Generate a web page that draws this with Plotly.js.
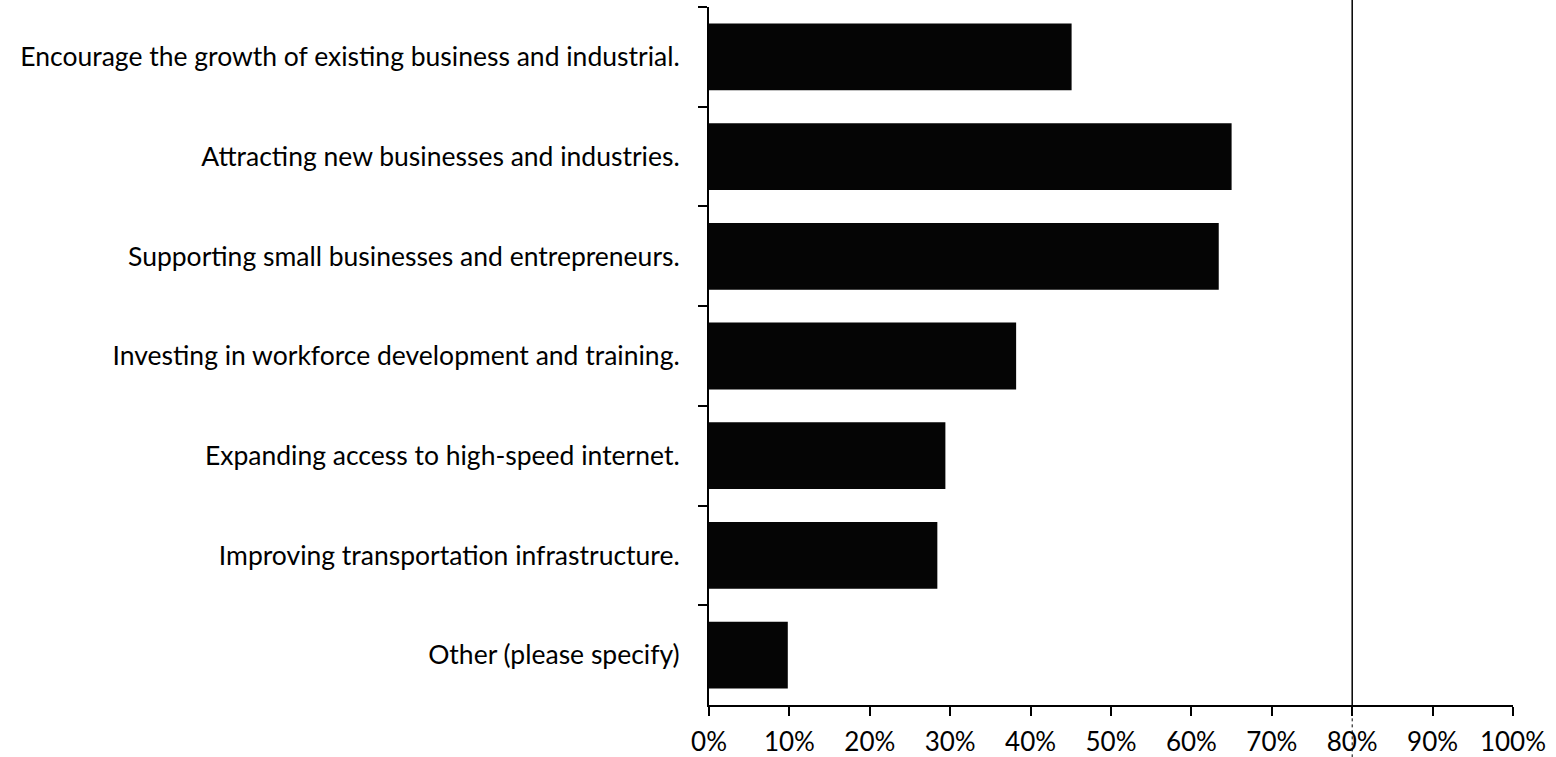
<!DOCTYPE html>
<html>
<head>
<meta charset="utf-8">
<script src="https://cdn.plot.ly/plotly-3.0.1.min.js"></script>
<style>
  html, body { margin: 0; padding: 0; background: #fff; }
  #chart { width: 1556px; height: 757px; }
</style>
</head>
<body>
<div id="chart"></div>
<script>
const categories = [
  "Encourage the growth of existing business and industrial.",
  "Attracting new businesses and industries.",
  "Supporting small businesses and entrepreneurs.",
  "Investing in workforce development and training.",
  "Expanding access to high-speed internet.",
  "Improving transportation infrastructure.",
  "Other (please specify)"
];
const shares = [0.451, 0.650, 0.634, 0.382, 0.294, 0.284, 0.098];
const tickValues = [0, 0.1, 0.2, 0.3, 0.4, 0.5, 0.6, 0.7, 0.8, 0.9, 1.0];
const tickLabels = ["0%", "10%", "20%", "30%", "40%", "50%", "60%", "70%", "80%", "90%", "100%"];
const markerLine = 0.8;

const fontFamily = "Lato, 'Open Sans', sans-serif";

const trace = {
  type: "bar",
  orientation: "h",
  x: shares,
  y: categories,
  marker: { color: "#050505", line: { width: 0 } },
  hoverinfo: "x+y"
};

const layout = {
  width: 1556,
  height: 757,
  margin: { l: 709, r: 43, t: 7, b: 52, pad: 0 },
  paper_bgcolor: "#ffffff",
  plot_bgcolor: "#ffffff",
  showlegend: false,
  bargap: 0.33,
  font: { family: fontFamily, size: 26, color: "#000" },
  xaxis: {
    range: [0, 1],
    tickvals: tickValues,
    ticktext: tickLabels,
    showgrid: false,
    zeroline: false,
    showline: true,
    linecolor: "#000",
    linewidth: 2,
    ticks: "outside",
    ticklen: 9,
    tickwidth: 2,
    tickcolor: "#000",
    ticklabelstandoff: 4,
    tickfont: { family: fontFamily, size: 26, color: "#000" },
    fixedrange: true
  },
  yaxis: {
    type: "category",
    autorange: "reversed",
    showgrid: false,
    zeroline: false,
    showline: true,
    linecolor: "#000",
    linewidth: 2,
    ticks: "outside",
    tickson: "boundaries",
    ticklen: 9,
    tickwidth: 2,
    tickcolor: "#000",
    ticklabelstandoff: 22,
    tickfont: { family: fontFamily, size: 26.5, color: "#000" },
    fixedrange: true
  },
  shapes: [
    { type: "line", xref: "x", yref: "paper", x0: markerLine, x1: markerLine, y0: 0, y1: 1.012,
      line: { color: "#000", width: 1.5 } },
    { type: "line", xref: "x", yref: "paper", x0: markerLine, x1: markerLine, y0: -0.075, y1: 0,
      line: { color: "#000", width: 1, dash: "dot" } }
  ]
};

Plotly.newPlot("chart", [trace], layout, { displayModeBar: false, staticPlot: true });
</script>
</body>
</html>
